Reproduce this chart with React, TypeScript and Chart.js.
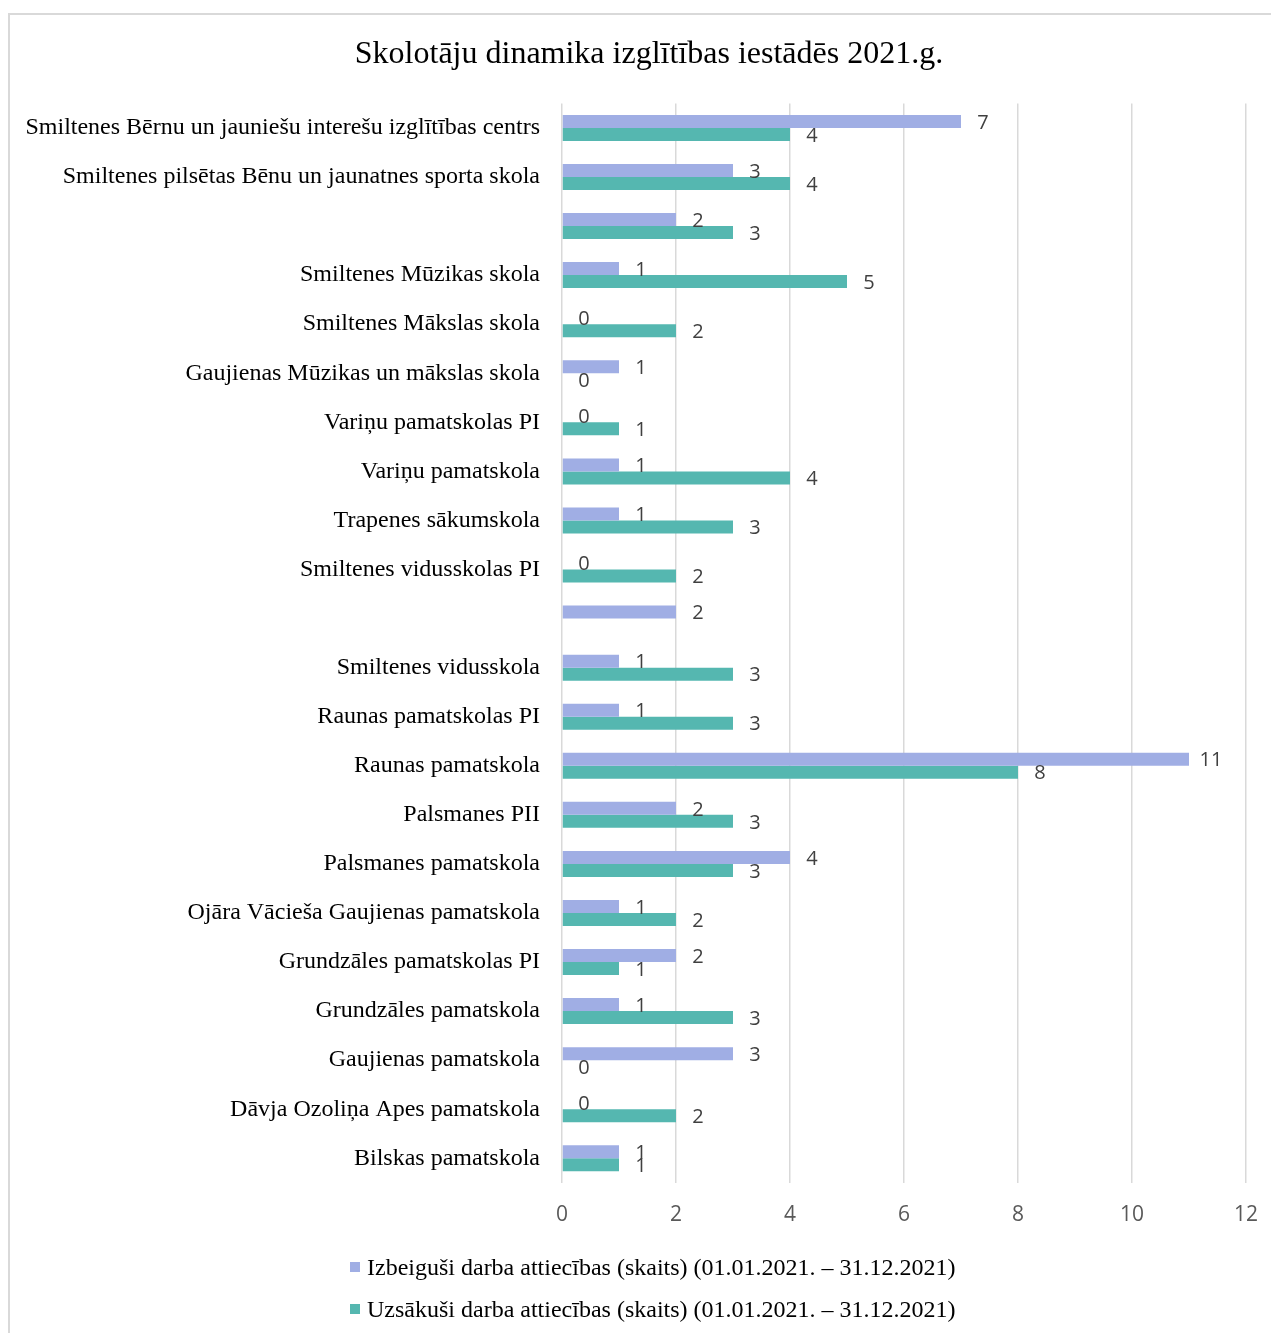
import React, { useEffect, useRef } from "react";
import { Chart, registerables } from "chart.js";

Chart.register(...registerables);

const TITLE = "Skolotāju dinamika izglītības iestādēs 2021.g.";

const categories: string[] = [
  "Smiltenes Bērnu un jauniešu interešu izglītības centrs",
  "Smiltenes pilsētas Bēnu un jaunatnes sporta skola",
  "",
  "Smiltenes Mūzikas skola",
  "Smiltenes Mākslas skola",
  "Gaujienas Mūzikas un mākslas skola",
  "Variņu pamatskolas PI",
  "Variņu pamatskola",
  "Trapenes sākumskola",
  "Smiltenes vidusskolas PI",
  "",
  "Smiltenes vidusskola",
  "Raunas pamatskolas PI",
  "Raunas pamatskola",
  "Palsmanes PII",
  "Palsmanes pamatskola",
  "Ojāra Vācieša Gaujienas pamatskola",
  "Grundzāles pamatskolas PI",
  "Grundzāles pamatskola",
  "Gaujienas pamatskola",
  "Dāvja Ozoliņa Apes pamatskola",
  "Bilskas pamatskola",
];

const seriesNames: string[] = [
  "Izbeiguši darba attiecības (skaits) (01.01.2021. – 31.12.2021)",
  "Uzsākuši darba attiecības (skaits) (01.01.2021. – 31.12.2021)",
];

const izbeigusi: (number | null)[] = [7, 3, 2, 1, 0, 1, 0, 1, 1, 0, 2, 1, 1, 11, 2, 4, 1, 2, 1, 3, 0, 1];
const uzsakusi: (number | null)[] = [4, 4, 3, 5, 2, 0, 1, 4, 3, 2, null, 3, 3, 8, 3, 3, 2, 1, 3, 0, 2, 1];

const xTicks: number[] = [0, 2, 4, 6, 8, 10, 12];

const COLORS = ["#a0aee4", "#55b7b0"];

const valueLabelPlugin = {
  id: "valueLabels",
  afterDatasetsDraw(chart: any) {
    const ctx = chart.ctx;
    ctx.save();
    ctx.font = "20px 'Open Sans'";
    ctx.fillStyle = "#404040";
    ctx.textAlign = "center";
    ctx.textBaseline = "middle";
    chart.data.datasets.forEach((ds: any, di: number) => {
      const meta = chart.getDatasetMeta(di);
      meta.data.forEach((el: any, i: number) => {
        const v = ds.data[i];
        if (v === null || v === undefined) return;
        ctx.fillText(String(v), el.x + 22, el.y + 1.5);
      });
    });
    ctx.restore();
  },
};

export default function App() {
  const canvasRef = useRef<HTMLCanvasElement | null>(null);

  useEffect(() => {
    document.documentElement.style.overflow = "hidden";
    document.body.style.overflow = "hidden";
    if (!canvasRef.current) return;
    const chart = new Chart(canvasRef.current, {
      type: "bar",
      data: {
        labels: categories,
        datasets: [
          {
            label: seriesNames[0],
            data: izbeigusi,
            backgroundColor: COLORS[0],
            categoryPercentage: 0.53,
            barPercentage: 1,
          },
          {
            label: seriesNames[1],
            data: uzsakusi,
            backgroundColor: COLORS[1],
            categoryPercentage: 0.53,
            barPercentage: 1,
          },
        ],
      },
      options: {
        indexAxis: "y",
        animation: false,
        responsive: true,
        maintainAspectRatio: false,
        layout: { padding: { left: 10, right: 0, top: 0, bottom: 5 } },
        plugins: {
          legend: { display: false },
          tooltip: { enabled: false },
          title: {
            display: true,
            text: TITLE,
            color: "#000000",
            font: { family: "'Liberation Serif', serif", size: 32, weight: "normal" },
            padding: { top: 20, bottom: 30 },
          },
        },
        scales: {
          x: {
            min: 0,
            max: 12,
            afterBuildTicks: (scale: any) => {
              scale.ticks = xTicks.map((v) => ({ value: v }));
            },
            grid: { color: "#d9d9d9", lineWidth: 1.5, drawTicks: false },
            border: { display: false },
            ticks: {
              color: "#595959",
              padding: 20,
              font: { family: "'Open Sans'", size: 21 },
            },
          },
          y: {
            afterFit: (scale: any) => {
              scale.width = 542;
            },
            grid: { display: false, drawTicks: false },
            border: { display: false },
            ticks: {
              color: "#000000",
              padding: 22,
              autoSkip: false,
              font: { family: "'Liberation Serif', serif", size: 24 },
            },
          },
        },
      },
      plugins: [valueLabelPlugin],
    });
    return () => chart.destroy();
  }, []);

  const legendItem = (i: number, top: number) => (
    <div
      key={i}
      style={{
        position: "absolute",
        left: 340,
        top,
        height: 30,
        display: "flex",
        alignItems: "center",
        fontFamily: "'Liberation Serif', serif",
        fontSize: 24,
        color: "#000",
        whiteSpace: "nowrap",
      }}
    >
      <span
        style={{
          display: "inline-block",
          width: 10,
          height: 10,
          background: COLORS[i],
          marginRight: 7,
        }}
      />
      {seriesNames[i]}
    </div>
  );

  return (
    <div
      style={{
        marginTop: 5,
        position: "relative",
        width: 1285,
        height: 1340,
        border: "2px solid #d9d9d9",
        boxSizing: "border-box",
        background: "#fff",
      }}
    >
      <div style={{ position: "absolute", left: 0, top: 0, width: 1268, height: 1238 }}>
        <canvas ref={canvasRef} />
      </div>
      {legendItem(0, 1237)}
      {legendItem(1, 1279)}
    </div>
  );
}
